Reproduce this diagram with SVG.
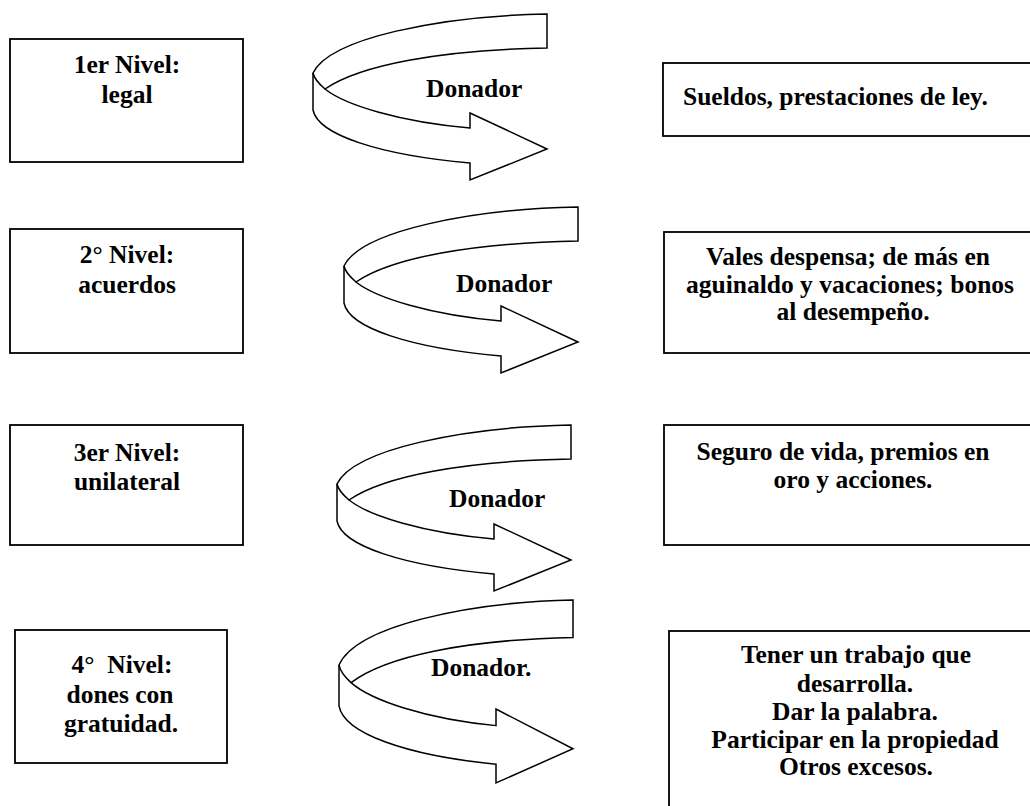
<svg xmlns="http://www.w3.org/2000/svg" xmlns:xlink="http://www.w3.org/1999/xlink" width="1030" height="806" viewBox="0 0 1030 806">
<style>
.box{fill:#fff;stroke:#000;stroke-width:1.8}
.t{font-family:"Liberation Serif","Times New Roman",serif;font-weight:bold;font-size:25.5px;fill:#000}
.c{text-anchor:middle}
.ar{fill:#fff;stroke:#000;stroke-width:1.5;stroke-linejoin:miter;vector-effect:non-scaling-stroke}
.ln{fill:none;stroke:#000;stroke-width:1.5;vector-effect:non-scaling-stroke}
</style>
<defs>
<g id="curved">
<path class="ar" d="M547,14 C440,16 330,38 313,73 L313,110 C318,135 380,155 470,163 L470,180 L547,149 L470,113 L470,128 C400,122 345,105 325,89 C360,65 440,50 547,48 Z"/>
<path class="ln" d="M325,89 C318,83 314,78 313,73"/>
</g>
</defs>
<rect width="1030" height="806" fill="#fff"/>
<g id="connectors">
<use xlink:href="#curved"/>
<use xlink:href="#curved" transform="translate(31,193)"/>
<use xlink:href="#curved" transform="translate(24,411)"/>
<use xlink:href="#curved" transform="translate(26,600) scale(1,1.102) translate(0,-14)"/>
<text class="t" x="426" y="97">Donador</text>
<text class="t" x="456" y="292">Donador</text>
<text class="t" x="449" y="507">Donador</text>
<text class="t" x="431" y="676">Donador.</text>
</g>
<g id="nivel1">
<rect class="box" x="10" y="39" width="233" height="123"/>
<text class="t c" x="127" y="73">1er Nivel:</text>
<text class="t c" x="127" y="103">legal</text>
</g>
<g id="nivel2">
<rect class="box" x="10" y="229" width="233" height="124"/>
<text class="t c" x="127" y="263">2° Nivel:</text>
<text class="t c" x="127" y="293">acuerdos</text>
</g>
<g id="nivel3">
<rect class="box" x="10" y="425" width="233" height="120"/>
<text class="t c" x="127" y="461">3er Nivel:</text>
<text class="t c" x="127" y="490">unilateral</text>
</g>
<g id="nivel4">
<rect class="box" x="15" y="630" width="212" height="133"/>
<text class="t c" x="122" y="673" style="white-space:pre">4°  Nivel:</text>
<text class="t c" x="120" y="703">dones con</text>
<text class="t c" x="121" y="732">gratuidad.</text>
</g>
<g id="resultado1">
<rect class="box" x="663" y="63" width="380" height="73"/>
<text class="t" x="683" y="105">Sueldos, prestaciones de ley.</text>
</g>
<g id="resultado2">
<rect class="box" x="664" y="232" width="380" height="121"/>
<text class="t c" x="848" y="265">Vales despensa; de más en</text>
<text class="t c" x="850" y="293">aguinaldo y vacaciones; bonos</text>
<text class="t c" x="853" y="320">al desempeño.</text>
</g>
<g id="resultado3">
<rect class="box" x="664" y="425" width="380" height="120"/>
<text class="t c" x="843" y="460">Seguro de vida, premios en</text>
<text class="t c" x="853" y="488">oro y acciones.</text>
</g>
<g id="resultado4">
<rect class="box" x="669" y="631" width="380" height="190"/>
<text class="t c" x="856" y="663">Tener un trabajo que</text>
<text class="t c" x="855" y="692">desarrolla.</text>
<text class="t c" x="855" y="720">Dar la palabra.</text>
<text class="t c" x="855" y="748">Participar en la propiedad</text>
<text class="t c" x="856" y="775">Otros excesos.</text>
</g>
</svg>
